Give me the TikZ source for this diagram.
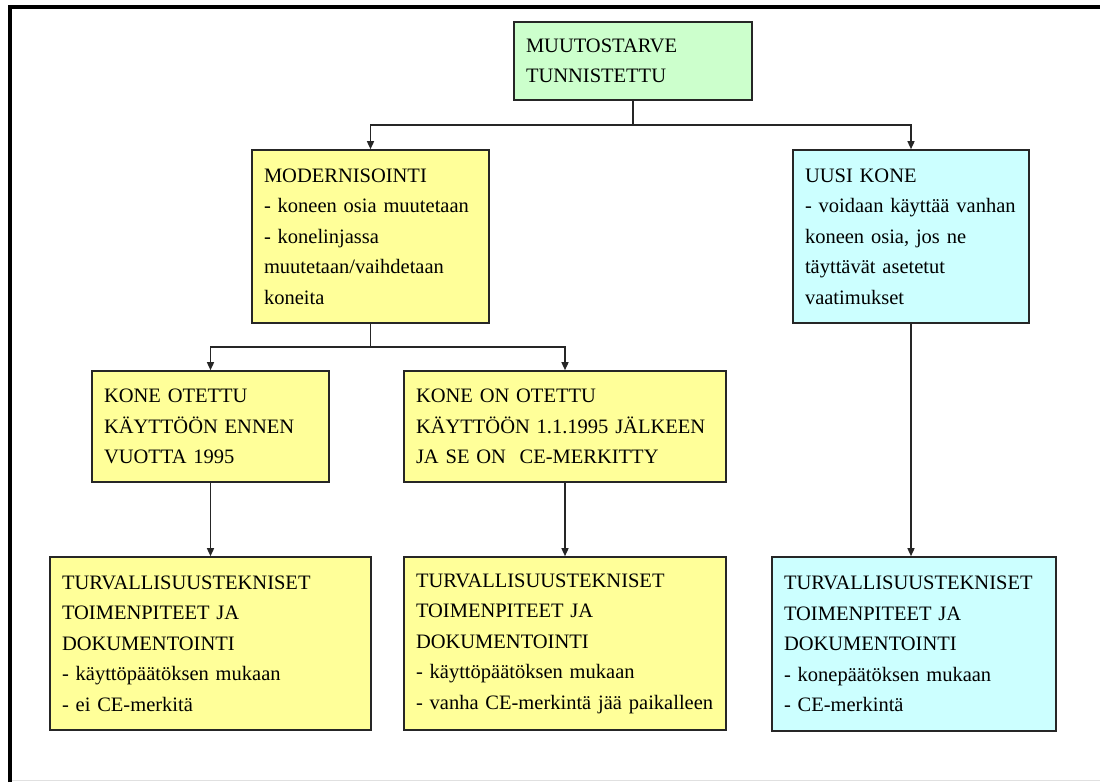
\documentclass[tikz,border=0pt]{standalone}
\usepackage{fontspec}
\setmainfont{Liberation Serif}
\usetikzlibrary{arrows.meta}
\definecolor{boxgreen}{HTML}{CCFFCC}
\definecolor{boxyellow}{HTML}{FFFF99}
\definecolor{boxcyan}{HTML}{CCFFFF}
\tikzset{
  box/.style={draw=black!85, line width=1.6pt, align=left, inner xsep=12pt,
    font=\fontsize{20.5}{30.5}\selectfont, anchor=center},
  conn/.style={draw=black!85, line width=1.4pt},
  arr/.style={conn, -{Triangle[length=8pt,width=7pt]}},
}
\begin{document}
\begin{tikzpicture}[x=1pt,y=-1pt]
\useasboundingbox (0,0) rectangle (1100,782);
% frame
\draw[line width=4pt] (10,782) -- (10,7) -- (1100,7);
\draw[black!12, line width=1pt] (12,780) -- (1100,780);

\node[box, fill=boxgreen, minimum width=238pt, minimum height=78pt, text width=214pt] (top) at (633,61)
  {MUUTOSTARVE\\TUNNISTETTU};
\node[box, fill=boxyellow, minimum width=237pt, minimum height=173pt, text width=213pt] (mod) at (370.5,236.5)
  {MODERNISOINTI\\- koneen osia muutetaan\\- konelinjassa\\muutetaan/vaihdetaan\\koneita};
\node[box, fill=boxcyan, minimum width=236pt, minimum height=173pt, text width=212pt] (uusi) at (911,236.5)
  {UUSI KONE\\- voidaan käyttää vanhan\\koneen osia, jos ne\\täyttävät asetetut\\vaatimukset};
\node[box, fill=boxyellow, minimum width=237pt, minimum height=111pt, text width=213pt] (k1) at (210.5,426.5)
  {KONE OTETTU\\KÄYTTÖÖN ENNEN\\VUOTTA 1995};
\node[box, fill=boxyellow, minimum width=322pt, minimum height=111pt, text width=298pt] (k2) at (565,426.5)
  {KONE ON OTETTU\\KÄYTTÖÖN 1.1.1995 JÄLKEEN\\JA SE ON \ CE-MERKITTY};
\node[box, fill=boxyellow, minimum width=321pt, minimum height=173pt, text width=297pt] (t1) at (210.5,643.5)
  {TURVALLISUUSTEKNISET\\TOIMENPITEET JA\\DOKUMENTOINTI\\- käyttöpäätöksen mukaan\\- ei CE-merkitä};
\node[box, fill=boxyellow, minimum width=322pt, minimum height=173pt, text width=298pt] (t2) at (565,643.5)
  {TURVALLISUUSTEKNISET\\TOIMENPITEET JA\\DOKUMENTOINTI\\- käyttöpäätöksen mukaan\\- vanha CE-merkintä jää paikalleen};
\node[box, fill=boxcyan, minimum width=284pt, minimum height=174pt, text width=260pt] (t3) at (914,644)
  {TURVALLISUUSTEKNISET\\TOIMENPITEET JA\\DOKUMENTOINTI\\- konepäätöksen mukaan\\- CE-merkintä};

% connectors
\coordinate (j1) at (633,125);
\coordinate (j2) at (370.5,347);
\draw[conn] (top.south) -- (j1);
\draw[arr] (j1) -| (mod.north);
\draw[arr] (j1) -| (uusi.north);
\draw[conn] (mod.south) -- (j2);
\draw[arr] (j2) -| (k1.north);
\draw[arr] (j2) -| (k2.north);
\draw[arr] (k1.south) -- (t1.north);
\draw[arr] (k2.south) -- (t2.north);
\draw[arr] (uusi.south) -- (uusi.south |- t3.north);
\end{tikzpicture}
\end{document}
